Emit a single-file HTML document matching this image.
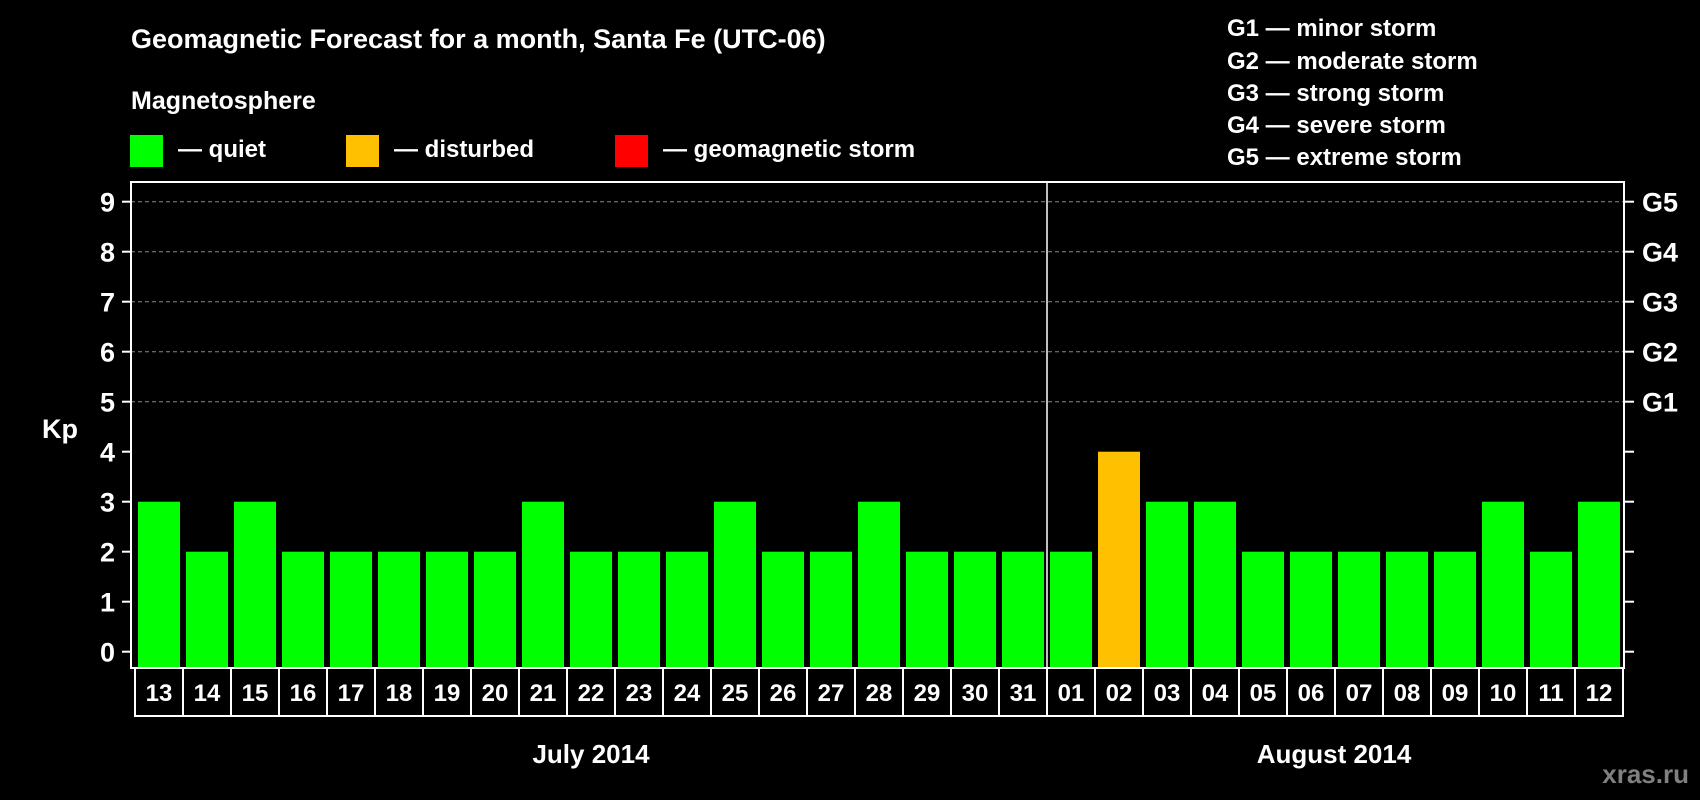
<!DOCTYPE html>
<html><head><meta charset="utf-8"><style>
html,body{margin:0;padding:0;background:#000;width:1700px;height:800px;overflow:hidden}
svg text{font-family:"Liberation Sans",Arial,sans-serif;font-weight:bold;fill:#fff}
</style></head><body>
<svg id="chart" width="1700" height="800" xmlns="http://www.w3.org/2000/svg">
<text x="131" y="48" font-size="27">Geomagnetic Forecast for a month, Santa Fe (UTC-06)</text>
<text x="131" y="109" font-size="25">Magnetosphere</text>
<g>
<rect x="130" y="135" width="33" height="32" fill="#00ff00"/>
<text x="178" y="157" font-size="24">— quiet</text>
<rect x="346" y="135" width="33" height="32" fill="#ffc000"/>
<text x="394" y="157" font-size="24">— disturbed</text>
<rect x="615" y="135" width="33" height="32" fill="#ff0000"/>
<text x="663" y="157" font-size="24">— geomagnetic storm</text>
</g>
<g font-size="24">
<text x="1227" y="36">G1 — minor storm</text>
<text x="1227" y="69">G2 — moderate storm</text>
<text x="1227" y="101">G3 — strong storm</text>
<text x="1227" y="133">G4 — severe storm</text>
<text x="1227" y="165">G5 — extreme storm</text>
</g>
<text x="42" y="438" font-size="27">Kp</text>
<g id="plot"></g>
<text x="591" y="763" font-size="26" text-anchor="middle">July 2014</text>
<text x="1334" y="763" font-size="26" text-anchor="middle">August 2014</text>
<text x="1689" y="783" font-size="26" text-anchor="end" style="fill:#808080">xras.ru</text>
</svg>
<script>
const days = ["13","14","15","16","17","18","19","20","21","22","23","24","25","26","27","28","29","30","31","01","02","03","04","05","06","07","08","09","10","11","12"];
const kpValues = [3,2,3,2,2,2,2,2,3,2,2,2,3,2,2,3,2,2,2,2,4,3,3,2,2,2,2,2,3,2,3];
const yTicks = [0,1,2,3,4,5,6,7,8,9];
const gLabels = ["G1","G2","G3","G4","G5"];
const gLevels = [5,6,7,8,9];
const monthSplitIndex = 19;

const NS = "http://www.w3.org/2000/svg";
const plot = document.getElementById('plot');
const L = 131, R = 1624, T = 182, B = 668;
const x0 = 138, pitch = 48, bw = 42;
const y = v => 651.7 - v * 50;
const x = i => x0 + i * pitch;
function mk(tag, attrs){const e=document.createElementNS(NS,tag);for(const k in attrs)e.setAttribute(k,attrs[k]);plot.appendChild(e);return e;}

gLevels.forEach(v=>{
  const g = mk('line',{x1:L,x2:R,y1:y(v),y2:y(v),stroke:'#888','stroke-width':1,'stroke-dasharray':'4,3'});
  
  
});
kpValues.forEach((v,i)=>{
  const r = mk('rect',{x:x(i),y:y(v),width:bw,height:B-1-y(v),fill:v>=5?'#ff0000':(v>=4?'#ffc000':'#00ff00')});
  
  
});
const frame = mk('rect',{x:L,y:T,width:R-L,height:B-T,fill:'none',stroke:'#fff','stroke-width':2});


const sx = x(monthSplitIndex) - 3;
const sep = mk('line',{x1:sx,x2:sx,y1:T,y2:B,stroke:'#fff','stroke-width':1.5});


yTicks.forEach(v=>{
  const t = mk('line',{x1:L-9,x2:L,y1:y(v),y2:y(v),stroke:'#fff','stroke-width':2});
  
  
  const lb = mk('text',{x:115,y:y(v)+10,'font-size':27,'text-anchor':'end'});
  lb.textContent = v;
  
  
  const t2 = mk('line',{x1:R,x2:R+10,y1:y(v),y2:y(v),stroke:'#fff','stroke-width':2});
  
  
});
gLabels.forEach((g,i)=>{
  const lb = mk('text',{x:1642,y:y(gLevels[i])+10,'font-size':27});
  lb.textContent = g;
  
  
});
days.forEach((d,i)=>{
  const cx = 135 + i*pitch;
  const c = mk('rect',{x:cx,y:B,width:pitch,height:48,fill:'none',stroke:'#fff','stroke-width':2});
  
  
  const t = mk('text',{x:cx+pitch/2,y:B+33,'font-size':24,'text-anchor':'middle'});
  t.textContent = d;
  
  
});
</script>
</body></html>
